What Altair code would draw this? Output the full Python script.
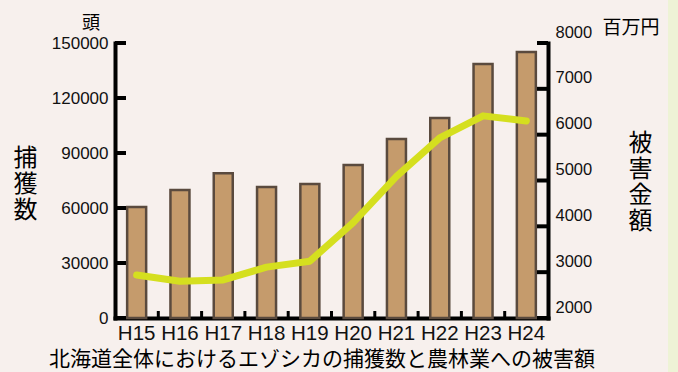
import altair as alt
import pandas as pd

years = ["H15", "H16", "H17", "H18", "H19", "H20", "H21", "H22", "H23", "H24"]
captures = [60500, 69800, 79000, 71500, 73100, 83500, 97600, 109100, 138500, 145100]
damage = [2940, 2800, 2830, 3110, 3240, 4080, 5090, 5930, 6410, 6300]
left_ticks = [0, 30000, 60000, 90000, 120000, 150000]
right_ticks = [2000, 3000, 4000, 5000, 6000, 7000, 8000]

W, H = 433, 275
STEP = W / len(years)
JP = "Noto Sans CJK JP"
NUM = "Liberation Sans"

df = pd.DataFrame({"year": years, "captures": captures, "damage": damage})
lt = pd.DataFrame({"captures": left_ticks})
rt = pd.DataFrame({"damage": right_ticks})
bt = pd.DataFrame({"year": years[:-1]})
one = pd.DataFrame({"a": [0]})

xscale = alt.Scale(domain=years, paddingInner=0, paddingOuter=0)
lscale = alt.Scale(domain=[0, 150000], nice=False)
rscale = alt.Scale(domain=[2000, 8000], nice=False)

xaxis = alt.Axis(title=None, labelAngle=0, labelFont=NUM, labelFontSize=20.5,
                 labelColor="#111", labelPadding=5, ticks=False, tickSize=0,
                 domainColor="#000", domainWidth=4, domainCap="square")
laxis = alt.Axis(orient="left", values=left_ticks, format="d", grid=False,
                 ticks=False, tickSize=0, labelFont=NUM, labelFontSize=17,
                 labelColor="#111", labelPadding=7, domainColor="#000",
                 domainWidth=4, domainCap="square",
                 title=["捕", "獲", "数"], titleAngle=0, titleFont=JP,
                 titleFontSize=24, titleFontWeight="normal", titleColor="#000",
                 titleLineHeight=26, titleAlign="center", titleBaseline="top",
                 titleX=-90, titleY=103)
raxis = alt.Axis(orient="right", values=right_ticks, format="d", grid=False,
                 ticks=False, tickSize=0, labelFont=NUM, labelFontSize=16.5,
                 labelColor="#111", labelPadding=7, labelOffset=-11,
                 domainColor="#000", domainWidth=4, domainCap="square",
                 title=["被", "害", "金", "額"], titleAngle=0, titleFont=JP,
                 titleFontSize=24, titleFontWeight="normal", titleColor="#000",
                 titleLineHeight=26, titleAlign="center", titleBaseline="top",
                 titleX=92, titleY=88)


def X():
    return alt.X("year:N", scale=xscale, sort=years, axis=xaxis)


strip = alt.Chart(one).mark_rect(color="#eef3d6", clip=False).encode(
    x=alt.value(W + 120), x2=alt.value(W + 135), y=alt.value(-43), y2=alt.value(H + 54))

bars = alt.Chart(df).mark_bar(size=19, color="#c59b6c", stroke="#5a4a3e", strokeWidth=2.5).encode(
    x=X(), y=alt.Y("captures:Q", scale=lscale, axis=laxis))

lticks = alt.Chart(lt).mark_rule(color="#000", strokeWidth=4).encode(
    y=alt.Y("captures:Q", scale=lscale, axis=laxis), x=alt.value(0), x2=alt.value(11))

bticks = alt.Chart(bt).mark_rule(color="#000", strokeWidth=3, xOffset=STEP / 2).encode(
    x=X(), y=alt.value(H), y2=alt.value(H - 7))

line = alt.Chart(df).mark_line(color="#d5df1f", strokeWidth=7, strokeCap="round",
                               strokeJoin="round").encode(
    x=X(), y=alt.Y("damage:Q", scale=rscale, axis=raxis))

rticks = alt.Chart(rt).mark_rule(color="#000", strokeWidth=4).encode(
    y=alt.Y("damage:Q", scale=rscale, axis=raxis), x=alt.value(W - 11), x2=alt.value(W))

t_head = alt.Chart(one).mark_text(text="頭", font=JP, fontSize=18, color="#000").encode(
    x=alt.value(91 - 115), y=alt.value(24 - 43))
t_yen = alt.Chart(one).mark_text(text="百万円", font=JP, fontSize=19, color="#000").encode(
    x=alt.value(631 - 115), y=alt.value(28 - 43))
t_title = alt.Chart(one).mark_text(text="北海道全体におけるエゾシカの捕獲数と農林業への被害額",
                                   font=JP, fontSize=21, color="#000").encode(
    x=alt.value(322 - 115), y=alt.value(360 - 43))

left = alt.layer(bars, lticks, bticks)
right = alt.layer(line, rticks)

chart = alt.layer(strip, left, right, t_head, t_yen, t_title).resolve_scale(
    y="independent").properties(
    width=W, height=H,
    autosize=alt.AutoSizeParams(type="none"),
    padding={"left": 115, "top": 43, "right": 130, "bottom": 54},
    background="#f7f0ed",
).configure_view(stroke=None)

chart.save("out.html", embed_options={"renderer": "svg", "actions": False})
